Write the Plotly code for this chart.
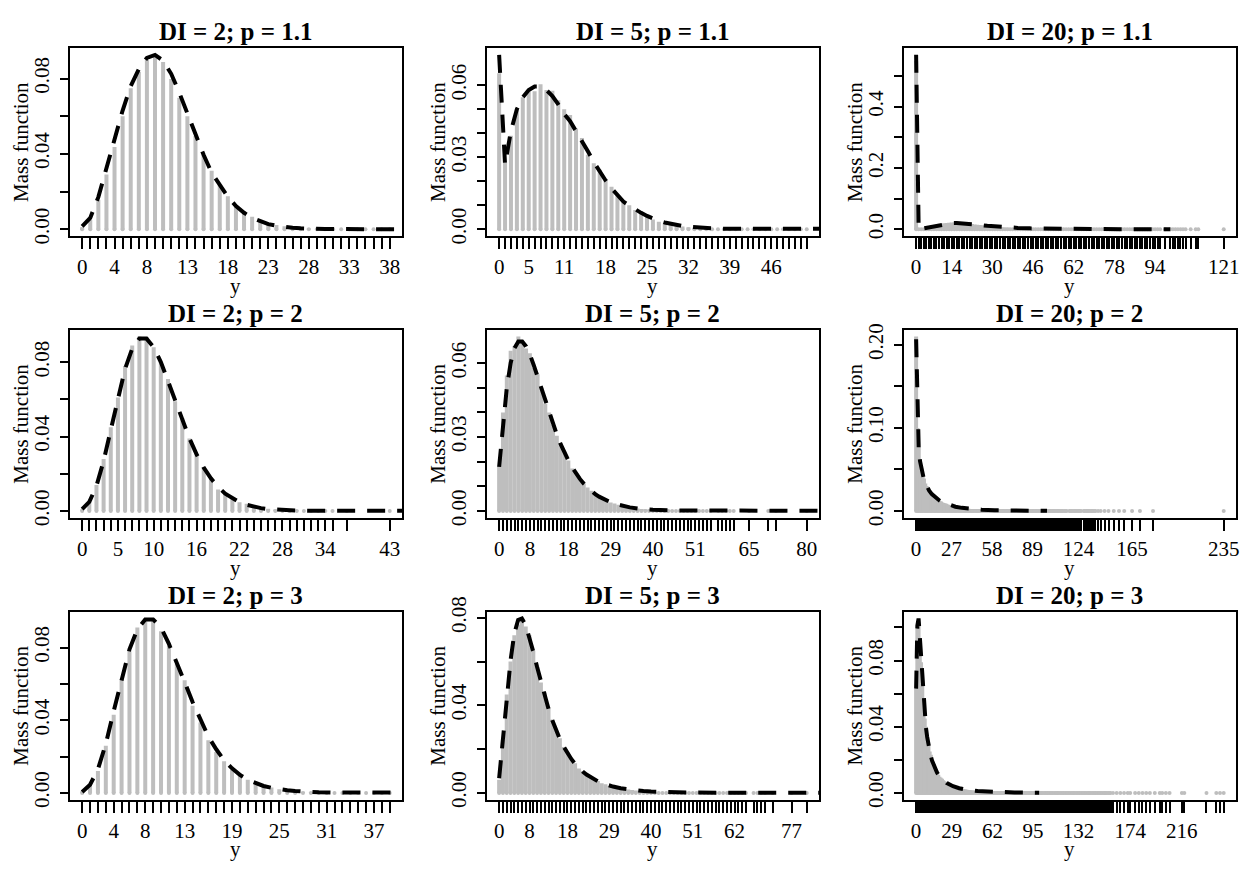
import plotly.graph_objects as go

# ---------------- data ----------------
titles = ["DI = 2; p = 1.1", "DI = 5; p = 1.1", "DI = 20; p = 1.1",
          "DI = 2; p = 2", "DI = 5; p = 2", "DI = 20; p = 2",
          "DI = 2; p = 3", "DI = 5; p = 3", "DI = 20; p = 3"]

# observed values (x tick positions) and the labelled subset
support_11 = list(range(0, 39))
xlabels_11 = [0, 4, 8, 13, 18, 23, 28, 33, 38]
support_12 = list(range(0, 53))
xlabels_12 = [0, 5, 11, 18, 25, 32, 39, 46]
support_13 = list(range(0, 97)) + [98, 100, 101, 102, 103, 104, 105, 106, 108, 110, 111, 121]
xlabels_13 = [0, 14, 30, 46, 62, 78, 94, 121]
support_21 = list(range(0, 36)) + [37, 43]
xlabels_21 = [0, 5, 10, 16, 22, 28, 34, 43]
support_22 = list(range(0, 56)) + [57, 58, 59, 60, 61, 65, 70, 72, 80]
xlabels_22 = [0, 8, 18, 29, 40, 51, 65, 80]
support_23 = (list(range(0, 116)) + list(range(117, 127)) + list(range(128, 138))
              + [139, 141, 144, 147, 151, 155, 159, 165, 171, 181, 235])
xlabels_23 = [0, 27, 58, 89, 124, 165, 235]
support_31 = list(range(0, 40))
xlabels_31 = [0, 4, 8, 13, 19, 25, 31, 37]
support_32 = list(range(0, 66)) + [67, 68, 69, 70, 72, 77, 81]
xlabels_32 = [0, 8, 18, 29, 40, 51, 62, 77]
support_33 = (list(range(0, 159)) + [160, 163, 166, 169, 172, 174, 178, 181, 184, 187,
                                      190, 194, 198, 200, 203, 206, 216, 218, 236, 244, 247, 250])
xlabels_33 = [0, 29, 62, 95, 132, 174, 216]

# empirical mass (gray bars), starting at y = 0
gray_11 = [0.001, 0.005, 0.0155, 0.029, 0.0436, 0.060, 0.0748, 0.0836, 0.090, 0.0926, 0.0888,
           0.0797, 0.0698, 0.0600, 0.0495, 0.0395, 0.0310, 0.0235, 0.0175, 0.0128, 0.0093,
           0.0066, 0.0047, 0.0033, 0.0022, 0.0015, 0.0010, 0.0007, 0.0005, 0.0003, 0.0002,
           0.0001, 0.0001]
gray_12 = [0.065, 0.028, 0.039, 0.050, 0.055, 0.0575, 0.0575, 0.0604, 0.058, 0.0577, 0.0537,
           0.050, 0.0476, 0.042, 0.038, 0.031, 0.0275, 0.0248, 0.0208, 0.0177, 0.0141,
           0.0114, 0.010, 0.008, 0.0067, 0.0051, 0.004, 0.0031, 0.0025, 0.0019, 0.0015,
           0.0011, 0.0008, 0.0006, 0.0005, 0.0003, 0.0002]
gray_13 = [0.55, 0.0005, 0.001, 0.002, 0.004, 0.006, 0.008, 0.010, 0.013, 0.015, 0.017,
           0.019, 0.020, 0.021, 0.022, 0.022, 0.022, 0.021, 0.0205, 0.020, 0.019,
           0.018, 0.017, 0.0155, 0.0145, 0.0135, 0.0125, 0.0115, 0.0105, 0.0095, 0.0087,
           0.0078, 0.007, 0.0063, 0.0056, 0.005, 0.0044, 0.0039, 0.0034, 0.003, 0.0026,
           0.0023, 0.002, 0.0017, 0.0015, 0.0013, 0.0011, 0.0009, 0.0008, 0.0007, 0.0006]
gray_21 = [0.0008, 0.005, 0.014, 0.028, 0.045, 0.061, 0.078, 0.089, 0.0938, 0.0935, 0.088,
           0.080, 0.071, 0.059, 0.050, 0.039, 0.031, 0.0236, 0.0175, 0.0115, 0.0101,
           0.007, 0.0047, 0.0038, 0.0026, 0.002, 0.0012, 0.0008, 0.0005, 0.0003, 0.0002]
gray_22 = [0.018, 0.040, 0.055, 0.065, 0.067, 0.0708, 0.069, 0.066, 0.064, 0.058, 0.0555,
           0.050, 0.0435, 0.040, 0.035, 0.0305, 0.027, 0.024, 0.0205, 0.0172, 0.0155,
           0.0128, 0.0112, 0.0095, 0.0082, 0.0068, 0.0058, 0.0048, 0.0042, 0.0034, 0.003,
           0.0025, 0.0021, 0.0017, 0.0014, 0.0012, 0.001, 0.0008, 0.0007, 0.0005, 0.0005,
           0.0004, 0.0003, 0.0003, 0.0002, 0.0002]
gray_23 = [0.21, 0.100, 0.077, 0.058, 0.051, 0.042, 0.039, 0.033, 0.030, 0.027, 0.024,
           0.0225, 0.020, 0.019, 0.0168, 0.0158, 0.0142, 0.0135, 0.012, 0.0115, 0.0103,
           0.0097, 0.009, 0.0085, 0.0078, 0.0072, 0.0068, 0.0063, 0.0058, 0.0055, 0.0051,
           0.0048, 0.0044, 0.0041, 0.0039, 0.0036, 0.0034, 0.0031, 0.0029, 0.0028, 0.0026,
           0.0024, 0.0023, 0.0021, 0.002, 0.0019, 0.0017, 0.0016, 0.0015, 0.0014, 0.0013,
           0.0012, 0.0012, 0.0011, 0.001, 0.001, 0.0009, 0.0008, 0.0008, 0.0007, 0.0007]
gray_31 = [0.0008, 0.0045, 0.012, 0.026, 0.043, 0.063, 0.078, 0.091, 0.096, 0.096, 0.089,
           0.081, 0.071, 0.062, 0.048, 0.0387, 0.029, 0.0225, 0.0174, 0.0126, 0.0108,
           0.0072, 0.0054, 0.004, 0.003, 0.002, 0.0013, 0.0009, 0.0006, 0.0004, 0.0003]
gray_32 = [0.006, 0.024, 0.045, 0.060, 0.072, 0.077, 0.079, 0.076, 0.072, 0.065, 0.058,
           0.0505, 0.046, 0.039, 0.0335, 0.0285, 0.025, 0.021, 0.0186, 0.015, 0.0135,
           0.0112, 0.0099, 0.0082, 0.0074, 0.006, 0.0054, 0.0044, 0.004, 0.0032, 0.003,
           0.0025, 0.0021, 0.0018, 0.0015, 0.0013, 0.0011, 0.001, 0.0008, 0.0007, 0.0006]
gray_33 = [0.063, 0.099, 0.103, 0.092, 0.079, 0.068, 0.056, 0.045, 0.040, 0.034, 0.029,
           0.025, 0.023, 0.019, 0.0175, 0.015, 0.0135, 0.0125, 0.011, 0.0098, 0.0092,
           0.0085, 0.0077, 0.0071, 0.0065, 0.006, 0.0056, 0.0052, 0.0047, 0.0044, 0.004,
           0.0037, 0.0035, 0.0032, 0.003, 0.0028, 0.0026, 0.0024, 0.0022, 0.0021, 0.002,
           0.0019, 0.0018, 0.0017, 0.0016, 0.0015, 0.0014, 0.0013, 0.0013, 0.0012, 0.0011,
           0.001, 0.001, 0.0009, 0.0009, 0.0008, 0.0008, 0.0007, 0.0007, 0.0007, 0.0006]

# theoretical mass function (dashed curve)
curve_x_11 = list(range(0, 29)) + [30, 35, 40, 100]
curve_y_11 = [0.0015, 0.006, 0.017, 0.032, 0.048, 0.063, 0.076, 0.085, 0.091, 0.0925, 0.0895,
              0.0825, 0.0725, 0.0615, 0.050, 0.0395, 0.030, 0.0235, 0.0172, 0.0123, 0.0087,
              0.0060, 0.0041, 0.0027, 0.0018, 0.0011, 0.0007, 0.00045, 0.00028,
              0.0001, 0.00001, 0.0, 0.0]
curve_x_12 = list(range(0, 37)) + [38, 40, 45, 50, 100]
curve_y_12 = [0.0727, 0.027, 0.041, 0.050, 0.055, 0.058, 0.0595, 0.0595, 0.058, 0.0555, 0.052,
              0.048, 0.045, 0.041, 0.037, 0.0325, 0.028, 0.024, 0.0203, 0.017, 0.014,
              0.0115, 0.0098, 0.0082, 0.0068, 0.0055, 0.0044, 0.0035, 0.0028, 0.0022, 0.0017,
              0.0013, 0.001, 0.00078, 0.0006, 0.00046, 0.00035,
              0.0002, 0.00011, 0.00002, 0.000004, 0.0]
curve_x_13 = [0, 1, 2, 4, 6, 8, 10, 12, 14, 16, 18, 20, 24, 28, 32, 36, 40, 45, 50, 60, 70, 80, 100]
curve_y_13 = [0.57, 0.0005, 0.001, 0.004, 0.008, 0.012, 0.016, 0.0185, 0.0198, 0.0198, 0.019,
              0.0175, 0.0145, 0.0112, 0.0083, 0.006, 0.0042, 0.0026, 0.0016, 0.0006, 0.0002,
              0.0001, 0.0]
curve_x_21 = list(range(0, 31)) + [35, 40, 45, 100]
curve_y_21 = [0.00098, 0.0049, 0.0134, 0.0269, 0.0436, 0.0611, 0.0764, 0.0873, 0.0927, 0.0927,
              0.0881, 0.0801, 0.0701, 0.0593, 0.0487, 0.0390, 0.0304, 0.0233, 0.0175, 0.0129,
              0.0093, 0.0067, 0.0047, 0.0033, 0.0022, 0.0015, 0.0010, 0.0007, 0.00046, 0.0003,
              0.0002, 0.00003, 0.000004, 0.0, 0.0]
curve_x_22 = list(range(0, 31)) + [32, 34, 36, 38, 40, 45, 50, 60, 70, 100]
curve_y_22 = [0.0179, 0.0358, 0.0501, 0.0601, 0.0661, 0.0688, 0.0688, 0.0668, 0.0635, 0.0592,
              0.0545, 0.0495, 0.0446, 0.0398, 0.0352, 0.0310, 0.0271, 0.0236, 0.0205, 0.0177,
              0.0152, 0.0130, 0.0111, 0.0095, 0.0081, 0.0068, 0.0058, 0.0049, 0.0041, 0.0035,
              0.0029, 0.0021, 0.00145, 0.001, 0.0007, 0.00049, 0.0002, 0.00008, 0.00001,
              0.0, 0.0]
curve_x_23 = list(range(0, 11)) + [12, 14, 16, 18, 20, 25, 30, 35, 40, 50, 60, 70, 80, 90, 100]
curve_y_23 = [0.2067, 0.1034, 0.0750, 0.0600, 0.0502, 0.0432, 0.0378, 0.0335, 0.0299, 0.0269,
              0.0244, 0.0202, 0.0170, 0.0144, 0.0123, 0.0105, 0.0072, 0.0051, 0.0037, 0.0027,
              0.0015, 0.0008, 0.00045, 0.00025, 0.00014, 0.00008]
curve_x_31 = list(range(0, 29)) + [30, 32, 35, 40, 100]
curve_y_31 = [0.0005, 0.0045, 0.013, 0.027, 0.045, 0.063, 0.079, 0.090, 0.0955, 0.0955, 0.091,
              0.082, 0.072, 0.061, 0.050, 0.040, 0.031, 0.024, 0.018, 0.0135, 0.0099,
              0.0072, 0.0053, 0.0038, 0.0028, 0.002, 0.0014, 0.001, 0.0007,
              0.00035, 0.00017, 0.00005, 0.00001, 0.0]
curve_x_32 = list(range(0, 31)) + [32, 34, 36, 38, 40, 45, 50, 60, 70, 80, 100]
curve_y_32 = [0.0067, 0.0225, 0.0424, 0.0605, 0.0729, 0.0790, 0.0797, 0.0766, 0.0711, 0.0645,
              0.0575, 0.0507, 0.0443, 0.0384, 0.0332, 0.0286, 0.0246, 0.0211, 0.0181, 0.0155,
              0.0133, 0.0114, 0.0098, 0.0084, 0.0072, 0.0061, 0.0053, 0.0045, 0.0039, 0.0033,
              0.0029, 0.0021, 0.00155, 0.00114, 0.00084, 0.00062, 0.00029, 0.00014, 0.000035,
              0.00001, 0.000002, 0.0]
curve_x_33 = list(range(0, 21)) + [25, 30, 35, 40, 50, 60, 70, 80, 90, 100]
curve_y_33 = [0.063, 0.101, 0.1054, 0.0945, 0.0801, 0.0667, 0.0556, 0.0466, 0.0394, 0.0337,
              0.0290, 0.0252, 0.0220, 0.0194, 0.0172, 0.0153, 0.0137, 0.0123, 0.0111, 0.0100,
              0.0091, 0.0059, 0.0040, 0.0028, 0.0020, 0.0011, 0.00067, 0.00041, 0.00026,
              0.00017, 0.00011]

# y-axis ticks and their (partly omitted) labels
yticks_a = [0.0, 0.02, 0.04, 0.06, 0.08]
ylabels_a = ["0.00", "", "0.04", "", "0.08"]
yticks_b = [0.0, 0.01, 0.02, 0.03, 0.04, 0.05, 0.06]
ylabels_b = ["0.00", "", "", "0.03", "", "", "0.06"]
yticks_c = [0.0, 0.1, 0.2, 0.3, 0.4, 0.5]
ylabels_c = ["0.0", "", "0.2", "", "0.4", ""]
yticks_d = [0.0, 0.05, 0.10, 0.15, 0.20]
ylabels_d = ["0.00", "", "0.10", "", "0.20"]
yticks_e = [0.0, 0.02, 0.04, 0.06, 0.08, 0.10]
ylabels_e = ["0.00", "", "0.04", "", "0.08", ""]

panels = [
    (support_11, xlabels_11, gray_11, curve_x_11, curve_y_11, yticks_a, ylabels_a),
    (support_12, xlabels_12, gray_12, curve_x_12, curve_y_12, yticks_b, ylabels_b),
    (support_13, xlabels_13, gray_13, curve_x_13, curve_y_13, yticks_c, ylabels_c),
    (support_21, xlabels_21, gray_21, curve_x_21, curve_y_21, yticks_a, ylabels_a),
    (support_22, xlabels_22, gray_22, curve_x_22, curve_y_22, yticks_b, ylabels_b),
    (support_23, xlabels_23, gray_23, curve_x_23, curve_y_23, yticks_d, ylabels_d),
    (support_31, xlabels_31, gray_31, curve_x_31, curve_y_31, yticks_a, ylabels_a),
    (support_32, xlabels_32, gray_32, curve_x_32, curve_y_32, yticks_a, ylabels_a),
    (support_33, xlabels_33, gray_33, curve_x_33, curve_y_33, yticks_e, ylabels_e),
]

# ---------------- layout geometry (page pixels) ----------------
PAGE_W, PAGE_H = 1248, 876
OFF = 8                       # default body margin of the html page
FW, FH = PAGE_W - 2 * OFF, PAGE_H - 2 * OFF
col_left = [70, 488, 906]
box_w = 333
row_top = [33.5, 323.0, 612.7]
box_h = 193.5
FONT = "Liberation Serif"
GRAY = "#BEBEBE"
TICK_SIZE = 21


def px(xp):
    return (xp - OFF) / FW


def py(yp):
    return 1 - (yp - OFF) / FH


fig = go.Figure()
layout = dict(width=FW, height=FH, margin=dict(l=0, r=0, t=0, b=0),
              paper_bgcolor="white", plot_bgcolor="white", showlegend=False)
annotations = []

for i, (sup, xlab, gray, cx, cy, yt, yl) in enumerate(panels):
    r, c = divmod(i, 3)
    xa = "x" if i == 0 else f"x{i+1}"
    ya = "y" if i == 0 else f"y{i+1}"
    L, T = col_left[c], row_top[r]
    R, B = L + box_w, T + box_h

    # gray vertical bars (type "h") and their round ends on the baseline
    bx, by = [], []
    for xv, pv in zip(sup, gray):
        bx += [xv, xv, None]
        by += [0, pv, None]
    fig.add_trace(go.Scatter(x=sup, y=[0] * len(sup), mode="markers",
                             marker=dict(color=GRAY, size=4), xaxis=xa, yaxis=ya,
                             hoverinfo="skip"))
    fig.add_trace(go.Scatter(x=bx, y=by, mode="lines", line=dict(color=GRAY, width=4),
                             xaxis=xa, yaxis=ya, hoverinfo="skip"))
    # dashed theoretical curve
    fig.add_trace(go.Scatter(x=cx, y=cy, mode="lines",
                             line=dict(color="black", width=4, dash="18px,12px"),
                             xaxis=xa, yaxis=ya, hoverinfo="skip"))

    M = max(sup)
    ymax = max(max(gray), max(cy))
    xkey = "xaxis" if i == 0 else f"xaxis{i+1}"
    ykey = "yaxis" if i == 0 else f"yaxis{i+1}"
    layout[xkey] = dict(
        domain=[px(L), px(R)], anchor=ya, range=[-0.04 * M, 1.04 * M],
        tickmode="array", tickvals=sup,
        ticktext=[str(v) if v in xlab else "" for v in sup],
        ticks="outside", ticklen=11, tickwidth=2, tickcolor="black",
        tickangle=0, ticklabelstandoff=0, ticklabeloverflow="allow",
        tickfont=dict(family=FONT, size=TICK_SIZE, color="black"),
        showline=True, linecolor="black", linewidth=1.5, mirror=True,
        showgrid=False, zeroline=False)
    layout[ykey] = dict(
        domain=[py(B), py(T)], anchor=xa, range=[-0.04 * ymax, 1.04 * ymax],
        tickmode="array", tickvals=yt, ticktext=yl,
        ticks="outside", ticklen=8, tickwidth=1.5, tickcolor="black",
        tickangle=-90, ticklabelstandoff=3, ticklabeloverflow="allow",
        tickfont=dict(family=FONT, size=TICK_SIZE, color="black"),
        showline=True, linecolor="black", linewidth=1.5, mirror=True,
        showgrid=False, zeroline=False)

    annotations.append(dict(text=f"<b>{titles[i]}</b>", xref="paper", yref="paper",
                            x=px((L + R) / 2), y=py(T - 1), xanchor="center",
                            yanchor="bottom", showarrow=False,
                            font=dict(family=FONT, size=25, color="black")))
    annotations.append(dict(text="y", xref="paper", yref="paper",
                            x=px((L + R) / 2), y=py(B + 51), xanchor="center",
                            yanchor="middle", showarrow=False,
                            font=dict(family=FONT, size=TICK_SIZE, color="black")))
    annotations.append(dict(text="Mass function", xref="paper", yref="paper",
                            x=px(L - 49), y=py((T + B) / 2), xanchor="center",
                            yanchor="middle", textangle=-90, showarrow=False,
                            font=dict(family=FONT, size=TICK_SIZE, color="black")))

layout["annotations"] = annotations
fig.update_layout(**layout)
fig.write_html("out.html")
